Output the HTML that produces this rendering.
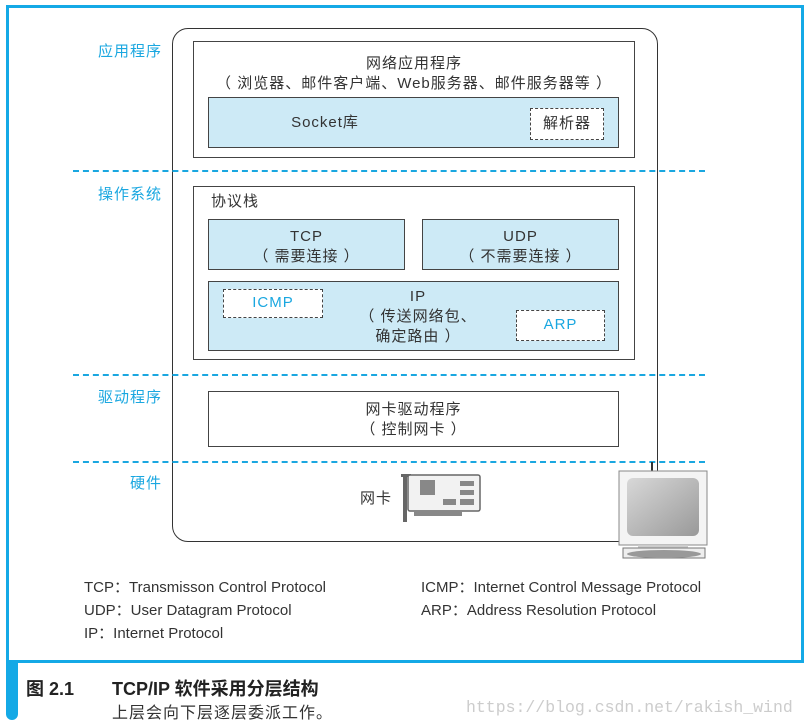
<!DOCTYPE html>
<html><head><meta charset="utf-8"><style>
body{margin:0;width:806px;height:727px;background:#fff;position:relative;overflow:hidden;font-family:"Liberation Sans","Noto Sans CJK SC",sans-serif;color:#333}
.a{position:absolute;box-sizing:border-box}
.b{border:1.5px solid #444}
.blue{background:#cdeaf6}
.dash{border:1.5px dashed #444;background:#fff}
.hl{position:absolute;left:73px;width:632px;border-top:2px dashed #1aa7e0;height:0}
.lab{position:absolute;color:#1aa7e0;font-size:15px;text-align:right;width:90px;left:72px;letter-spacing:1px}
.c{text-align:center;font-size:15px;line-height:20px;letter-spacing:1px}
.leg{position:absolute;font-size:15px;color:#333}
</style></head><body>
<div class="a" style="left:6px;top:5px;width:798px;height:658px;border:3px solid #14a9e6"></div>
<div class="a" style="left:6px;top:660px;width:12px;height:60px;background:#14a9e6;border-radius:0 0 6px 6px"></div>

<div class="a" style="left:172px;top:28px;width:486px;height:514px;border:1.5px solid #333;border-radius:16px"></div>
<div class="lab" style="top:40px">应用程序</div>
<div class="lab" style="top:183px">操作系统</div>
<div class="lab" style="top:386px">驱动程序</div>
<div class="lab" style="top:472px">硬件</div>
<div class="hl" style="top:170px"></div>
<div class="hl" style="top:374px"></div>
<div class="hl" style="top:461px"></div>

<div class="a b" style="left:193px;top:41px;width:442px;height:117px;background:#fff"></div>
<div class="a c" style="left:193px;top:54px;width:442px">网络应用程序<br>（ 浏览器、邮件客户端、Web服务器、邮件服务器等 ）</div>
<div class="a b blue" style="left:208px;top:97px;width:411px;height:51px"></div>
<div class="a c" style="left:270px;top:113px;width:110px">Socket库</div>
<div class="a dash c" style="left:530px;top:108px;width:74px;height:32px;line-height:29px">解析器</div>

<div class="a b" style="left:193px;top:186px;width:442px;height:174px;background:#fff"></div>
<div class="a" style="left:211px;top:190px;font-size:15px;letter-spacing:1px">协议栈</div>
<div class="a b blue c" style="left:208px;top:219px;width:197px;height:51px;padding-top:7px">TCP<br>（ 需要连接 ）</div>
<div class="a b blue c" style="left:422px;top:219px;width:197px;height:51px;padding-top:7px">UDP<br>（ 不需要连接 ）</div>
<div class="a b blue" style="left:208px;top:281px;width:411px;height:70px"></div>
<div class="a c" style="left:338px;top:287px;width:160px">IP<br>（ 传送网络包、<br>确定路由 ）</div>
<div class="a dash c" style="left:223px;top:289px;width:100px;height:29px;line-height:26px;color:#1aa7e0">ICMP</div>
<div class="a dash c" style="left:516px;top:310px;width:89px;height:31px;line-height:28px;color:#1aa7e0">ARP</div>

<div class="a b c" style="left:208px;top:391px;width:411px;height:56px;padding-top:8px;background:#fff">网卡驱动程序<br>（ 控制网卡 ）</div>

<div class="a" style="left:360px;top:487px;font-size:15px;letter-spacing:1px">网卡</div>
<svg class="a" style="left:400px;top:472px" width="84" height="52">
<rect x="3" y="2" width="4" height="48" fill="#666"/><rect x="1" y="2" width="10" height="3" fill="#666"/>
<rect x="8" y="3" width="72" height="36" fill="#f2f2f2" stroke="#666" stroke-width="1.5" rx="2"/>
<rect x="20" y="8" width="15" height="15" fill="#888"/>
<rect x="60" y="9" width="14" height="5" fill="#888"/><rect x="60" y="18" width="14" height="5" fill="#888"/><rect x="60" y="27" width="14" height="6" fill="#888"/>
<rect x="43" y="27" width="13" height="6" fill="#888"/>
<rect x="14" y="39" width="48" height="5" fill="#888"/>
</svg>
<div class="a" style="left:651px;top:462px;width:2px;height:12px;background:#333"></div>
<svg class="a" style="left:618px;top:470px" width="92" height="90">
<defs><linearGradient id="g" x1="0" y1="0" x2="1" y2="1"><stop offset="0" stop-color="#d8d8d8"/><stop offset="1" stop-color="#999"/></linearGradient></defs>
<rect x="1" y="1" width="88" height="74" fill="#f4f4f4" stroke="#888"/>
<rect x="9" y="8" width="72" height="58" rx="6" fill="url(#g)"/>
<rect x="20" y="75" width="50" height="5" fill="#ccc"/>
<rect x="5" y="78" width="82" height="10" fill="#eee" stroke="#777"/>
<ellipse cx="46" cy="84" rx="37" ry="4" fill="#999"/>
</svg>

<div class="leg" style="left:84px;top:576px">TCP：Transmisson Control Protocol</div>
<div class="leg" style="left:84px;top:599px">UDP：User Datagram Protocol</div>
<div class="leg" style="left:84px;top:622px">IP：Internet Protocol</div>
<div class="leg" style="left:421px;top:576px">ICMP：Internet Control Message Protocol</div>
<div class="leg" style="left:421px;top:599px">ARP：Address Resolution Protocol</div>

<div class="a" style="left:26px;top:675px;font-size:18px;color:#222;font-weight:bold">图 2.1</div>
<div class="a" style="left:112px;top:675px;font-size:18px;color:#222;font-weight:bold">TCP/IP 软件采用分层结构</div>
<div class="a" style="left:112px;top:699px;font-size:16px;color:#333;letter-spacing:1px">上层会向下层逐层委派工作。</div>
<div class="a" style="left:466px;top:698px;font-size:16.5px;color:#ccc;font-family:'Liberation Mono',monospace">https://blog.csdn.net/rakish_wind</div>
</body></html>
